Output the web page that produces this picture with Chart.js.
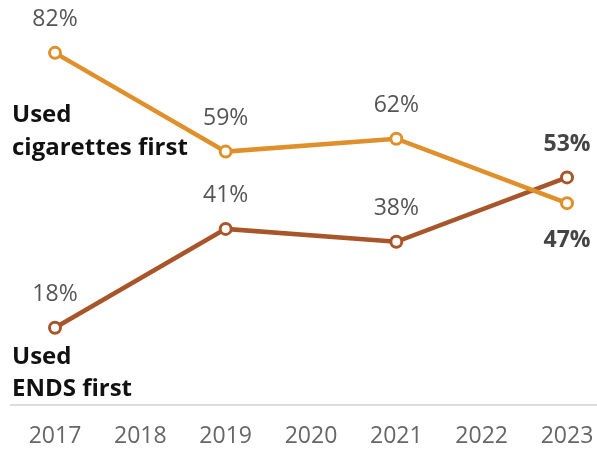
<!DOCTYPE html>
<html>
<head>
<meta charset="utf-8">
<script src="https://cdn.jsdelivr.net/npm/chart.js@4/dist/chart.umd.min.js"></script>
<style>
  html, body { margin: 0; padding: 0; background: #fff; }
  #wrap { width: 597px; height: 451px; position: relative; }
</style>
</head>
<body>
<div id="wrap"><canvas id="grafico"></canvas></div>
<script>
// anos no eixo x e percentuais de cada grupo (null = ano sem pesquisa)
var anos = ["2017", "2018", "2019", "2020", "2021", "2022", "2023"];
var cigarrosPrimeiro = [82, null, 59, null, 62, null, 47];
var endsPrimeiro = [18, null, 41, null, 38, null, 53];

var corCigarro = "#E0902A";
var corEnds = "#A8552A";
var fonte = "'Open Sans', sans-serif";

// rótulos de valor e nomes das séries, desenhados depois das linhas
var rotulos = {
    id: "rotulos",
    beforeDatasetsDraw: function(chart){
        // linha de base
        var ctx = chart.ctx, y = chart.scales.y;
        ctx.save();
        ctx.strokeStyle = "#dcdcdc";
        ctx.lineWidth = 2;
        ctx.beginPath();
        ctx.moveTo(10, y.getPixelForValue(0));
        ctx.lineTo(597, y.getPixelForValue(0));
        ctx.stroke();
        ctx.restore();
    },
    afterDatasetsDraw: function(chart){
        var ctx = chart.ctx;
        var x = chart.scales.x, y = chart.scales.y;
        ctx.save();
        ctx.textAlign = "center";
        ctx.textBaseline = "middle";

        function escreve(serie, i, dy, negrito){
            var v = serie[i];
            ctx.font = (negrito ? "bold " : "") + "23px " + fonte;
            ctx.fillStyle = negrito ? "#444" : "#555";
            ctx.fillText(v + "%", x.getPixelForValue(i), y.getPixelForValue(v) + dy);
        }
        var ultimo = anos.length - 1;
        for(var i = 0; i < ultimo; i++){
            if(cigarrosPrimeiro[i] != null) escreve(cigarrosPrimeiro, i, -33, false);
            if(endsPrimeiro[i] != null) escreve(endsPrimeiro, i, -33, false);
        }
        escreve(endsPrimeiro, ultimo, -33, true);
        escreve(cigarrosPrimeiro, ultimo, 37, true);

        // nomes das séries à esquerda
        ctx.textAlign = "left";
        ctx.fillStyle = "#111";
        ctx.font = "bold 24px " + fonte;
        ctx.fillText("Used", 12, 115);
        ctx.fillText("cigarettes first", 12, 148);
        ctx.fillText("Used", 12, 357);
        ctx.fillText("ENDS first", 12, 389);
        ctx.restore();
    }
};

function serie(nome, dados, cor){
    return {
        label: nome,
        data: dados,
        borderColor: cor,
        borderWidth: 4.5,
        pointRadius: 5.5,
        pointBorderWidth: 3,
        pointBackgroundColor: "#fff",
        pointBorderColor: cor,
        spanGaps: true,
        tension: 0
    };
}

new Chart(document.getElementById("grafico"), {
    type: "line",
    data: {
        labels: anos,
        datasets: [
            serie("Used cigarettes first", cigarrosPrimeiro, corCigarro),
            serie("Used ENDS first", endsPrimeiro, corEnds)
        ]
    },
    plugins: [rotulos],
    options: {
        responsive: true,
        maintainAspectRatio: false,
        animation: false,
        layout: { autoPadding: false, padding: { left: 55, right: 30, top: 0, bottom: 0 } },
        plugins: { legend: { display: false }, tooltip: { enabled: false } },
        scales: {
            x: {
                offset: false,
                grid: { display: false, drawTicks: false },
                border: { display: false },
                ticks: {
                    padding: 18,
                    color: "#666",
                    font: { family: fonte, size: 23 },
                    maxRotation: 0,
                    autoSkip: false
                },
                // altura fixa do eixo e sem recuo extra pelos rótulos das pontas
                afterFit: function(scale){
                    scale.height = 46;
                    scale.paddingLeft = 0;
                    scale.paddingRight = 0;
                }
            },
            y: {
                display: false,
                min: 0,
                max: 94.3
            }
        }
    }
});
</script>
</body>
</html>
